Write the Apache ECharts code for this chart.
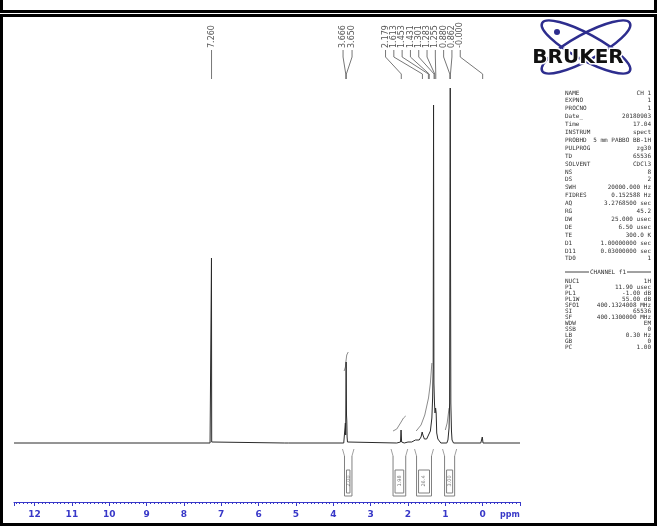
<!DOCTYPE html>
<html><head><meta charset="utf-8">
<script src="https://cdn.jsdelivr.net/npm/echarts@6/dist/echarts.min.js"></script>
<style>html,body{margin:0;padding:0;background:#fff}#c{width:657px;height:526px}</style>
</head><body><div id="c"></div>
<script>
// ---- spectrum (ppm, relative height) ----
const spectrumPpm = [12.55, 7.30, 7.268, 7.262, 7.256, 7.22, 5.30, 5.25, 5.20, 3.72, 3.69, 3.676, 3.668, 3.656, 3.646, 3.638, 3.63, 3.62, 3.58,
  2.30, 2.20, 2.185, 2.175, 2.17, 2.10, 2.00, 1.95, 1.90, 1.85, 1.80, 1.75, 1.70, 1.65, 1.62, 1.60, 1.56, 1.50, 1.45, 1.40, 1.36, 1.34, 1.325,
  1.315, 1.305, 1.29, 1.275, 1.26, 1.245, 1.23, 1.20, 1.16, 1.12, 0.96, 0.93, 0.90, 0.885, 0.868, 0.852, 0.835, 0.82, 0.78,
  0.05, 0.01, -0.01, -1.00];
const spectrumHeight = [0, 0, 1, 185, 1, 0, 0, 1.5, 0, 0, 2, 20, 8, 81, 28, 22, 6, 1, 0,
  0, 1, 13, 5, 1, 0, 1, 2.5, 1, 2, 3, 2, 3, 6, 11, 8, 4, 4, 6, 12, 25, 45, 75,
  338, 60, 40, 30, 35, 30, 10, 4, 2, 0, 0, 3, 15, 40, 355, 40, 12, 3, 0,
  0, 6, 0, 0];

// ---- integral curves ----
const integralCurve1 = [[3.71, 72], [3.675, 76], [3.66, 82], [3.64, 88], [3.60, 91]];
const integralCurve2 = [[2.40, 12], [2.30, 14], [2.20, 20], [2.12, 25], [2.06, 27]];
const integralCurve3 = [[1.78, 12], [1.65, 18], [1.55, 28], [1.45, 45], [1.40, 60], [1.36, 80]];
const integralCurve4 = [[1.00, 13], [0.95, 20], [0.90, 35]];

// ---- integral brackets ----
const integralFrom = [3.70, 2.40, 1.77, 1.02];
const integralTo = [3.50, 2.06, 1.37, 0.75];
const integralValue = ['2.00', '1.98', '26.4', '3.00'];

// ---- peak labels ----
const peakLabelText = ['7.260', '3.666', '3.650', '2.179', '1.613', '1.453', '1.431', '1.301', '1.283', '1.255', '0.880', '0.862', '-0.000'];
const peakLabelPpm = [7.260, 3.666, 3.650, 2.179, 1.613, 1.453, 1.431, 1.301, 1.283, 1.255, 0.880, 0.862, 0.000];
const peakLabelGroup = [0, 1, 1, 2, 2, 2, 2, 2, 2, 2, 2, 2, 2];

// ---- acquisition parameters ----
const paramNames = ['NAME', 'EXPNO', 'PROCNO', 'Date_', 'Time', 'INSTRUM', 'PROBHD', 'PULPROG', 'TD', 'SOLVENT', 'NS', 'DS', 'SWH', 'FIDRES', 'AQ', 'RG', 'DW', 'DE', 'TE', 'D1', 'D11', 'TD0'];
const paramValues = ['CH 1', '1', '1', '20180903', '17.04', 'spect', '5 mm PABBO BB-1H', 'zg30', '65536', 'CDCl3', '8', '2', '20000.000 Hz', '0.152588 Hz', '3.2768500 sec', '45.2', '25.000 usec', '6.50 usec', '300.0 K', '1.00000000 sec', '0.03000000 sec', '1'];
const channelNames = ['NUC1', 'P1', 'PL1', 'PL1W', 'SFO1', 'SI', 'SF', 'WDW', 'SSB', 'LB', 'GB', 'PC'];
const channelValues = ['1H', '11.90 usec', '-1.00 dB', '55.00 dB', '400.1324008 MHz', '65536', '400.1300000 MHz', 'EM', '0', '0.30 Hz', '0', '1.00'];

const BLUE = '#3838c8';
const chart = echarts.init(document.getElementById('c'), null, {renderer: 'canvas'});

const integralStyle = {color: '#8c8c8c', width: 1};
function intSeries(d) {
  return {type: 'line', data: d, showSymbol: false, symbol: 'none', lineStyle: integralStyle, silent: true, z: 1, animation: false};
}

chart.setOption({
  animation: false,
  grid: {left: 14, right: 137, top: 70, bottom: 24},
  xAxis: {
    type: 'value', inverse: true, min: -1, max: 12.55, interval: 1,
    axisLine: {show: true, onZero: false, lineStyle: {color: BLUE, width: 1}},
    axisTick: {show: true, length: 4, lineStyle: {color: BLUE}},
    minorTick: {show: true, splitNumber: 10, length: 2, lineStyle: {color: BLUE}},
    splitLine: {show: false},
    axisLabel: {
      color: BLUE, fontSize: 9, fontWeight: 'bold', fontFamily: 'DejaVu Sans', margin: 8,
      formatter: v => (Math.abs(v - Math.round(v)) < 1e-6 && v >= 0) ? String(Math.round(v)) : ''
    }
  },
  yAxis: {type: 'value', min: -59, max: 373, show: false},
  series: [
    {type: 'line', data: spectrumPpm.map((p, i) => [p, spectrumHeight[i]]), showSymbol: false, symbol: 'none',
     lineStyle: {color: '#2a2a2a', width: 1}, silent: true, z: 3, animation: false},
    intSeries(integralCurve1), intSeries(integralCurve2), intSeries(integralCurve3), intSeries(integralCurve4)
  ]
});

const px = (ppm) => chart.convertToPixel({gridIndex: 0}, [ppm, 0])[0];
const g = [];

// frames
g.push({type: 'rect', shape: {x: 1.5, y: -4, width: 654, height: 15.5}, style: {fill: 'none', stroke: '#000', lineWidth: 3}});
g.push({type: 'rect', shape: {x: 1.5, y: 15.5, width: 654, height: 509}, style: {fill: 'none', stroke: '#000', lineWidth: 3}});

// peak labels with leader lines
const groups = {};
peakLabelText.forEach((t, i) => { (groups[peakLabelGroup[i]] = groups[peakLabelGroup[i]] || []).push(i); });
const groupShift = [0, 1.5, -14];
const groupSpacing = [0, 9, 8.3];
Object.keys(groups).forEach(k => {
  const idx = groups[k];
  const pxs = idx.map(i => px(peakLabelPpm[i]));
  const mean = pxs.reduce((a, b) => a + b, 0) / pxs.length + groupShift[k];
  idx.forEach((i, j) => {
    const lx = mean + (j - (idx.length - 1) / 2) * groupSpacing[k];
    const p = pxs[j];
    g.push({type: 'text', x: lx, y: 48, rotation: Math.PI / 2,
      style: {text: peakLabelText[i], fontSize: 8, fontFamily: 'DejaVu Sans', fill: '#555', align: 'left', verticalAlign: 'middle'}});
    g.push({type: 'polyline', shape: {points: [[lx, 50], [lx, 57], [p, 74], [p, 79]]}, style: {fill: 'none', stroke: '#777', lineWidth: 1}});
  });
});

// integral brackets below spectrum
integralFrom.forEach((f, i) => {
  const x1 = px(f), x2 = px(integralTo[i]);
  const xm = (x1 + x2) / 2;
  g.push({type: 'polyline', shape: {points: [[x1, 456], [x1, 496], [x2, 496], [x2, 456]]}, style: {fill: 'none', stroke: '#808080', lineWidth: 1}});
  g.push({type: 'polyline', shape: {points: [[x1 - 2, 449], [x1, 456]]}, style: {fill: 'none', stroke: '#a0a0a0', lineWidth: 1}});
  g.push({type: 'polyline', shape: {points: [[x2 + 2, 449], [x2, 456]]}, style: {fill: 'none', stroke: '#a0a0a0', lineWidth: 1}});
  g.push({type: 'rect', shape: {x: x1 + 2, y: 470, width: Math.max(2, x2 - x1 - 4), height: 23}, style: {fill: 'none', stroke: '#808080', lineWidth: 1}});
  g.push({type: 'text', x: xm, y: 481, rotation: Math.PI / 2,
    style: {text: integralValue[i], fontSize: 5, fontFamily: 'DejaVu Sans', fill: '#777', align: 'center', verticalAlign: 'middle'}});
});

// ppm unit
g.push({type: 'text', x: 510, y: 515, style: {text: 'ppm', fontSize: 8, fontWeight: 'bold', fontFamily: 'DejaVu Sans', fill: BLUE, align: 'center', verticalAlign: 'middle'}});

// Bruker logo
g.push({type: 'ellipse', x: 586, y: 47, rotation: 0.5, shape: {cx: 0, cy: 0, rx: 50, ry: 13}, style: {fill: 'none', stroke: '#2d2d8e', lineWidth: 2.5}});
g.push({type: 'ellipse', x: 586, y: 47, rotation: -0.5, shape: {cx: 0, cy: 0, rx: 50, ry: 13}, style: {fill: 'none', stroke: '#2d2d8e', lineWidth: 2.5}});
g.push({type: 'circle', shape: {cx: 557, cy: 32, r: 3}, style: {fill: '#2d2d8e'}});
g.push({type: 'text', x: 578, y: 58, style: {text: 'BRUKER', fontSize: 20, fontWeight: 900, fontFamily: 'DejaVu Sans', fill: '#111', stroke: '#fff', lineWidth: 3, align: 'center', verticalAlign: 'middle'}});

// parameter table
const pf = {fontSize: 6, fontFamily: 'DejaVu Sans Mono', fill: '#333', verticalAlign: 'middle'};
paramNames.forEach((n, i) => {
  const y = 93 + i * 7.9;
  g.push({type: 'text', x: 565, y: y, style: Object.assign({text: n, align: 'left'}, pf)});
  g.push({type: 'text', x: 651, y: y, style: Object.assign({text: paramValues[i], align: 'right'}, pf)});
});
g.push({type: 'text', x: 608, y: 272, style: Object.assign({text: 'CHANNEL f1', align: 'center'}, pf)});
g.push({type: 'line', shape: {x1: 565, y1: 272, x2: 589, y2: 272}, style: {stroke: '#444', lineWidth: 1}});
g.push({type: 'line', shape: {x1: 627, y1: 272, x2: 651, y2: 272}, style: {stroke: '#444', lineWidth: 1}});
channelNames.forEach((n, i) => {
  const y = 281 + i * 6.0;
  g.push({type: 'text', x: 565, y: y, style: Object.assign({text: n, align: 'left'}, pf)});
  g.push({type: 'text', x: 651, y: y, style: Object.assign({text: channelValues[i], align: 'right'}, pf)});
});

chart.setOption({graphic: {elements: g}});
</script>
</body></html>
